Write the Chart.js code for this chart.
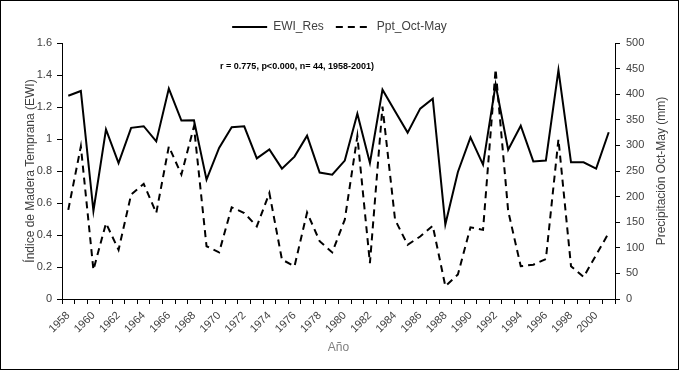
<!DOCTYPE html>
<html>
<head>
<meta charset="utf-8">
<script src="https://cdn.jsdelivr.net/npm/chart.js@4.4.1/dist/chart.umd.min.js"></script>
<style>
  html, body { margin: 0; padding: 0; background: #fff; }
  #wrap { width: 679px; height: 370px; position: relative; }
</style>
</head>
<body>
<div id="wrap"><canvas id="ewiChart" width="679" height="370"></canvas></div>
<script>
// years 1958-2001
const years = [];
for (let y = 1958; y <= 2001; y++) years.push(String(y));

// EWI residual index (left axis)
const ewiRes = [
    1.27, 1.30, 0.55, 1.06, 0.85, 1.07, 1.08, 0.985, 1.315, 1.115,
    1.117, 0.746, 0.944, 1.073, 1.079, 0.879, 0.935, 0.815, 0.89, 1.021,
    0.79, 0.777, 0.865, 1.158, 0.85, 1.308, 1.173, 1.04, 1.19, 1.252,
    0.465, 0.794, 1.01, 0.84, 1.34, 0.933, 1.083, 0.86, 0.865, 1.43,
    0.854, 0.854, 0.815, 1.042
];

// Oct-May precipitation in mm (right axis)
const pptOctMay = [
    174, 298, 57, 148, 96, 204, 225, 168, 298, 243,
    337, 103, 91, 179, 168, 142, 207, 77, 64, 169,
    113, 91, 155, 318, 70, 376, 155, 106, 122, 143,
    25, 48, 140, 135, 449, 172, 64, 67, 78, 312,
    64, 43, 86, 129
];

const statsText = "r = 0.775, p<0.000, n= 44, 1958-2001)";
const rightTitle = "Precipitación Oct-May (mm)";

const FONT = "'Liberation Sans', Arial, sans-serif";

// white background, outer frame, stats text, right axis title (reads bottom-up)
const framePlugin = {
    id: "frame",
    beforeDraw(chart) {
        const c = chart.ctx;
        c.save();
        c.fillStyle = "#fff";
        c.fillRect(0, 0, chart.width, chart.height);
        c.restore();
    },
    afterDraw(chart) {
        const c = chart.ctx;
        const a = chart.chartArea;
        const r = chart.scales.y1;
        c.save();
        c.strokeStyle = "#000";
        c.lineWidth = 1;
        c.strokeRect(0.5, 0.5, chart.width - 1, chart.height - 1);
        c.fillStyle = "#000";
        c.font = "bold 9px " + FONT;
        c.textAlign = "center";
        c.textBaseline = "middle";
        c.fillText(statsText, a.left + (a.right - a.left) * 0.425, a.top + 24);

        c.translate(r.right - 17, (a.top + a.bottom) / 2);
        c.rotate(-Math.PI / 2);
        c.fillStyle = "#404040";
        c.font = "12px " + FONT;
        c.fillText(rightTitle, 0, 0);
        c.restore();
    }
};

const ctx = document.getElementById("ewiChart").getContext("2d");
new Chart(ctx, {
    type: "line",
    data: {
        labels: years,
        datasets: [
            {
                label: "EWI_Res",
                data: ewiRes,
                borderColor: "#000",
                backgroundColor: "#000",
                borderWidth: 2,
                pointRadius: 0,
                tension: 0,
                yAxisID: "y"
            },
            {
                label: "Ppt_Oct-May",
                data: pptOctMay,
                borderColor: "#000",
                backgroundColor: "#000",
                borderWidth: 2,
                borderDash: [7, 5],
                pointRadius: 0,
                tension: 0,
                yAxisID: "y1"
            }
        ]
    },
    options: {
        responsive: false,
        animation: false,
        layout: { padding: { top: 0, left: 0, right: 0, bottom: 0 } },
        plugins: {
            legend: {
                position: "top",
                labels: {
                    usePointStyle: true,
                    pointStyle: "line",
                    pointStyleWidth: 35,
                    boxHeight: 2,
                    color: "#404040",
                    font: { family: FONT, size: 12 },
                    padding: 12,
                    generateLabels(chart) {
                        const items = Chart.defaults.plugins.legend.labels.generateLabels(chart);
                        items.forEach(it => {
                            const ds = chart.data.datasets[it.datasetIndex];
                            it.lineDash = ds.borderDash || [];
                            it.lineWidth = 2;
                        });
                        return items;
                    }
                }
            },
            tooltip: { enabled: false }
        },
        scales: {
            x: {
                offset: true,
                grid: { offset: true, drawOnChartArea: false, color: "#000", tickLength: 5 },
                border: { color: "#000", width: 1 },
                ticks: {
                    autoSkip: false,
                    minRotation: 45,
                    maxRotation: 45,
                    padding: 5,
                    color: "#404040",
                    font: { family: FONT, size: 11 },
                    callback: function (v, i) { return i % 2 === 0 ? this.getLabelForValue(v) : ""; }
                },
                title: {
                    display: true,
                    text: "Año",
                    color: "#7f7f7f",
                    font: { family: FONT, size: 12 },
                    padding: { top: 4, bottom: 15 }
                },
                afterFit(s) { s.height = 71; s.paddingLeft = 0; s.paddingRight = 0; }
            },
            y: {
                position: "left",
                min: 0,
                max: 1.6,
                ticks: {
                    stepSize: 0.2,
                    color: "#404040",
                    font: { family: FONT, size: 11 },
                    padding: 5,
                    callback: v => String(Math.round(v * 10) / 10)
                },
                grid: { drawOnChartArea: false, color: "#000", tickLength: 5 },
                border: { color: "#000", width: 1 },
                title: {
                    display: true,
                    text: "Índice de Madera Temprana (EWI)",
                    color: "#404040",
                    font: { family: FONT, size: 12 },
                    padding: { top: 23, bottom: 0 }
                },
                // chart area top edge sits at 43px like the original
                afterFit(s) { s.width = 62; s.paddingTop = 43; s.paddingBottom = 0; }
            },
            y1: {
                position: "right",
                min: 0,
                max: 500,
                ticks: {
                    stepSize: 50,
                    color: "#404040",
                    font: { family: FONT, size: 11 },
                    padding: 6
                },
                grid: { drawOnChartArea: false, color: "#000", tickLength: 5 },
                border: { color: "#000", width: 1 },
                afterFit(s) { s.width = 64; s.paddingTop = 43; s.paddingBottom = 0; }
            }
        }
    },
    plugins: [framePlugin]
});
</script>
</body>
</html>
